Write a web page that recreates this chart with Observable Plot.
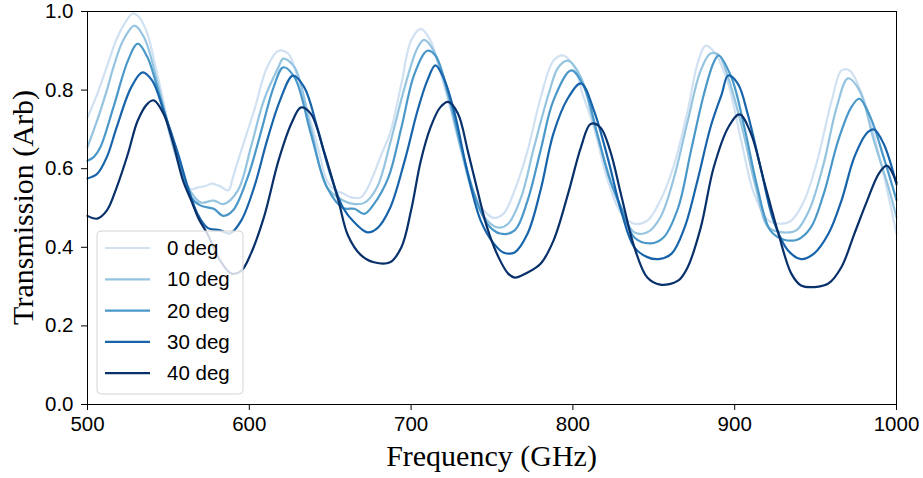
<!DOCTYPE html>
<html><head><meta charset="utf-8">
<script src="https://cdn.jsdelivr.net/npm/d3@7"></script>
<script src="https://cdn.jsdelivr.net/npm/@observablehq/plot@0.6"></script>
<style>body{margin:0;background:#fff} #chart{width:923px;height:478px}</style>
</head><body><div id="chart"></div>
<script>
const seriesNames = ["0 deg", "10 deg", "20 deg", "30 deg", "40 deg"];
const seriesColors = ["#d0e1f2", "#94c4df", "#4a98c9", "#1764ab", "#08306b"];
const xTicks = [500, 600, 700, 800, 900, 1000];
const yTicks = [0, 0.2, 0.4, 0.6, 0.8, 1.0];

const f0 = [500,506,512,518,523,528,532,537,542,547,551,556,560,564,568,573,577,582,587,590,595,603,611,618,624,630,636,642,648,653,658,663,669,673,677,682,687,694,700,706,712,717,723,731,739,747,751,757,764,772,780,788,794,801,806,813,821,830,838,846,854,862,871,877,882,888,896,904,912,921,929,935,943,951,960,966,971,980,990,1000];
const t0 = [0.73,0.79,0.86,0.93,0.97,0.995,0.985,0.944,0.86,0.77,0.69,0.62,0.575,0.548,0.552,0.556,0.562,0.555,0.545,0.58,0.646,0.748,0.858,0.90,0.893,0.83,0.748,0.66,0.57,0.545,0.537,0.527,0.527,0.55,0.587,0.64,0.69,0.816,0.926,0.956,0.926,0.86,0.774,0.646,0.536,0.485,0.475,0.485,0.545,0.646,0.78,0.875,0.888,0.858,0.79,0.705,0.578,0.485,0.46,0.468,0.519,0.603,0.748,0.867,0.913,0.893,0.816,0.672,0.536,0.468,0.46,0.468,0.519,0.62,0.774,0.85,0.85,0.774,0.62,0.435];

const f10 = [500,504,508,512,516,522,529,535,543,553,562,570,578,584,593,601,609,618,621,628,638,648,658,665,671,679,687,696,704,708,714,723,731,739,747,754,760,768,776,785,791,797,805,813,822,830,838,846,854,862,871,879,885,890,896,905,913,921,930,938,946,955,963,970,977,986,995,1000];
const t10 = [0.655,0.70,0.748,0.80,0.858,0.926,0.964,0.934,0.824,0.655,0.553,0.514,0.519,0.51,0.545,0.655,0.774,0.858,0.88,0.858,0.705,0.553,0.519,0.51,0.513,0.553,0.664,0.807,0.908,0.928,0.90,0.78,0.646,0.527,0.468,0.45,0.46,0.527,0.655,0.79,0.858,0.875,0.832,0.714,0.587,0.494,0.438,0.438,0.476,0.57,0.722,0.85,0.893,0.89,0.832,0.697,0.553,0.45,0.438,0.443,0.494,0.613,0.756,0.83,0.80,0.672,0.553,0.476];

const f20 = [500,504,508,516,525,531,537,545,558,564,570,578,584,590,599,607,615,621,628,638,648,658,665,671,677,686,694,702,710,715,723,731,739,747,755,764,772,780,788,799,807,815,823,830,838,848,856,865,873,881,887,890,898,906,914,922,930,939,947,955,964,972,977,984,992,1000];
const t20 = [0.62,0.63,0.655,0.756,0.875,0.918,0.884,0.78,0.603,0.527,0.506,0.498,0.48,0.494,0.578,0.69,0.807,0.858,0.832,0.69,0.553,0.50,0.498,0.485,0.51,0.578,0.705,0.84,0.90,0.888,0.79,0.655,0.536,0.46,0.435,0.443,0.519,0.646,0.774,0.85,0.807,0.69,0.57,0.50,0.425,0.41,0.425,0.50,0.646,0.79,0.87,0.888,0.832,0.705,0.553,0.443,0.42,0.42,0.45,0.536,0.672,0.756,0.778,0.73,0.63,0.52];

const f30 = [500,506,512,518,527,534,540,547,556,562,568,574,582,588,595,603,611,619,627,634,642,650,658,665,673,679,687,696,704,710,715,720,727,735,743,751,757,764,772,780,788,797,805,813,822,830,838,846,853,861,869,877,885,892,896,902,908,916,924,933,941,949,958,966,974,982,986,992,1000];
const t30 = [0.575,0.587,0.63,0.705,0.807,0.845,0.824,0.748,0.638,0.553,0.485,0.45,0.443,0.435,0.468,0.553,0.672,0.774,0.837,0.807,0.705,0.587,0.50,0.463,0.438,0.448,0.50,0.62,0.748,0.824,0.863,0.832,0.74,0.587,0.468,0.41,0.387,0.387,0.435,0.545,0.69,0.78,0.817,0.748,0.62,0.49,0.40,0.375,0.37,0.384,0.45,0.57,0.705,0.79,0.837,0.816,0.74,0.603,0.468,0.392,0.37,0.384,0.435,0.519,0.63,0.692,0.70,0.664,0.56];

const f40 = [500,506,512,518,525,531,537,541,547,553,559,564,569,574,582,589,595,601,609,618,626,632,638,646,655,661,669,677,687,694,700,706,712,718,723,729,735,741,747,754,760,764,772,780,788,797,805,811,817,823,830,838,846,854,865,871,879,887,896,903,910,918,927,935,941,952,958,966,974,982,989,994,1000];
const t40 = [0.48,0.473,0.494,0.552,0.638,0.722,0.765,0.774,0.74,0.664,0.57,0.52,0.47,0.435,0.366,0.333,0.34,0.384,0.476,0.62,0.715,0.756,0.74,0.646,0.52,0.43,0.38,0.362,0.362,0.40,0.494,0.62,0.705,0.756,0.77,0.74,0.646,0.545,0.45,0.375,0.333,0.323,0.336,0.358,0.417,0.536,0.655,0.714,0.705,0.646,0.53,0.40,0.323,0.305,0.315,0.35,0.45,0.603,0.705,0.738,0.69,0.57,0.435,0.333,0.303,0.30,0.308,0.35,0.435,0.52,0.587,0.608,0.565];

const freqs = [f0, f10, f20, f30, f40];
const trans = [t0, t10, t20, t30, t40];
const rows = seriesNames.flatMap((name, i) => {
  const n = Math.min(freqs[i].length, trans[i].length);
  return d3.range(n).map(j => ({series: name, freq: freqs[i][j], trans: trans[i][j]}));
});

const chart = Plot.plot({
  width: 923, height: 478,
  marginLeft: 87, marginRight: 27, marginTop: 11, marginBottom: 74,
  style: {fontFamily: "'Liberation Sans', Arial, sans-serif", fontSize: "20.5px", color: "#000", background: "#fff"},
  x: {domain: [500, 1000]},
  y: {domain: [0, 1]},
  color: {domain: seriesNames, range: seriesColors},
  marks: [
    Plot.line(rows, {x: "freq", y: "trans", z: "series", stroke: "series", strokeWidth: 2.2, curve: "catmull-rom"}),
    Plot.frame({stroke: "#000", strokeWidth: 1}),
    Plot.axisX({ticks: xTicks, tickFormat: d => String(d), tickSize: 6, tickPadding: 6, label: null}),
    Plot.axisY({ticks: yTicks, tickFormat: d => d.toFixed(1), tickSize: 6, tickPadding: 8, label: null})
  ]
});
document.getElementById("chart").appendChild(chart);

const svg = d3.select(chart);
const serif = "'Liberation Serif', 'Times New Roman', serif";
svg.append("text")
  .attr("x", 491.5).attr("y", 466).attr("text-anchor", "middle")
  .style("font-family", serif).style("font-size", "30px").attr("fill", "#000")
  .text("Frequency (GHz)");
svg.append("text")
  .attr("transform", "translate(33,207.5) rotate(-90)").attr("text-anchor", "middle")
  .style("font-family", serif).style("font-size", "30px").attr("fill", "#000")
  .text("Transmission (Arb)");

// legend inside the plot, lower left
const lg = svg.append("g");
lg.append("rect").attr("x", 97).attr("y", 231).attr("width", 146).attr("height", 163).attr("rx", 4)
  .attr("fill", "#fff").attr("fill-opacity", 0.8).attr("stroke", "#d4d4d4").attr("stroke-width", 1);
seriesNames.forEach((name, i) => {
  const y = 248 + i * 31.3;
  lg.append("line").attr("x1", 105).attr("x2", 150).attr("y1", y).attr("y2", y)
    .attr("stroke", seriesColors[i]).attr("stroke-width", 2.2);
  lg.append("text").attr("x", 167).attr("y", y).attr("dy", "0.35em").attr("text-anchor", "start")
    .style("font-family", "'Liberation Sans', Arial, sans-serif").style("font-size", "20.5px").attr("fill", "#000")
    .text(name);
});
</script>
</body></html>
